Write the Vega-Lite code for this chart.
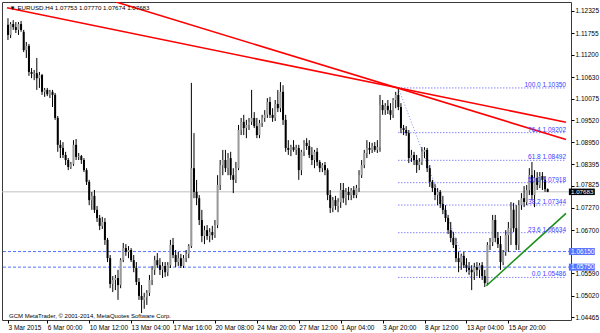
{
"$schema": "https://vega.github.io/schema/vega-lite/v6.json",
"width": 569, "height": 318,
"autosize": "none",
"padding": {"left": 2, "top": 2, "right": 29, "bottom": 13},
"background": "white",
"config": {"view": {"stroke": "#3a3a3a", "strokeWidth": 1}, "font": "Liberation Sans"},
"datasets": {
"candles": [
{"i":0,"o":1.1197,"h":1.1214,"l":1.1158,"c":1.1171},
{"i":1,"o":1.1171,"h":1.1204,"l":1.1163,"c":1.1199},
{"i":2,"o":1.1199,"h":1.1209,"l":1.1184,"c":1.1191},
{"i":3,"o":1.1191,"h":1.1204,"l":1.1176,"c":1.1184},
{"i":4,"o":1.1184,"h":1.1204,"l":1.1171,"c":1.1199},
{"i":5,"o":1.1199,"h":1.1207,"l":1.1179,"c":1.1184},
{"i":6,"o":1.1179,"h":1.1184,"l":1.1127,"c":1.1132},
{"i":7,"o":1.1132,"h":1.1153,"l":1.1112,"c":1.1143},
{"i":8,"o":1.1143,"h":1.1148,"l":1.1066,"c":1.1076},
{"i":9,"o":1.1076,"h":1.1086,"l":1.1060,"c":1.1071},
{"i":10,"o":1.1071,"h":1.1081,"l":1.1055,"c":1.1073},
{"i":11,"o":1.1073,"h":1.1112,"l":1.1030,"c":1.1060},
{"i":12,"o":1.1060,"h":1.1076,"l":1.1035,"c":1.1068},
{"i":13,"o":1.1068,"h":1.1071,"l":1.1017,"c":1.1025},
{"i":14,"o":1.1025,"h":1.1035,"l":1.1012,"c":1.1030},
{"i":15,"o":1.1030,"h":1.1035,"l":1.1014,"c":1.1019},
{"i":16,"o":1.1019,"h":1.1030,"l":1.1009,"c":1.1025},
{"i":17,"o":1.1025,"h":1.1030,"l":1.0986,"c":1.1017},
{"i":18,"o":1.1017,"h":1.1022,"l":1.0953,"c":1.0958},
{"i":19,"o":1.0958,"h":1.0963,"l":1.0871,"c":1.0889},
{"i":20,"o":1.0889,"h":1.0901,"l":1.0855,"c":1.0881},
{"i":21,"o":1.0881,"h":1.0896,"l":1.0855,"c":1.0863},
{"i":22,"o":1.0863,"h":1.0871,"l":1.0837,"c":1.0850},
{"i":23,"o":1.0850,"h":1.0855,"l":1.0824,"c":1.0832},
{"i":24,"o":1.0832,"h":1.0845,"l":1.0827,"c":1.0840},
{"i":25,"o":1.0840,"h":1.0901,"l":1.0835,"c":1.0889},
{"i":26,"o":1.0889,"h":1.0904,"l":1.0850,"c":1.0858},
{"i":27,"o":1.0858,"h":1.0868,"l":1.0850,"c":1.0860},
{"i":28,"o":1.0860,"h":1.0863,"l":1.0840,"c":1.0850},
{"i":29,"o":1.0850,"h":1.0855,"l":1.0819,"c":1.0824},
{"i":30,"o":1.0824,"h":1.0829,"l":1.0786,"c":1.0794},
{"i":31,"o":1.0794,"h":1.0799,"l":1.0734,"c":1.0747},
{"i":32,"o":1.0747,"h":1.0768,"l":1.0722,"c":1.0758},
{"i":33,"o":1.0758,"h":1.0773,"l":1.0714,"c":1.0722},
{"i":34,"o":1.0722,"h":1.0732,"l":1.0691,"c":1.0701},
{"i":35,"o":1.0701,"h":1.0709,"l":1.0670,"c":1.0681},
{"i":36,"o":1.0681,"h":1.0704,"l":1.0673,"c":1.0691},
{"i":37,"o":1.0691,"h":1.0701,"l":1.0632,"c":1.0645},
{"i":38,"o":1.0645,"h":1.0650,"l":1.0588,"c":1.0598},
{"i":39,"o":1.0598,"h":1.0606,"l":1.0521,"c":1.0532},
{"i":40,"o":1.0532,"h":1.0552,"l":1.0511,"c":1.0542},
{"i":41,"o":1.0542,"h":1.0555,"l":1.0516,"c":1.0547},
{"i":42,"o":1.0547,"h":1.0568,"l":1.0491,"c":1.0529},
{"i":43,"o":1.0529,"h":1.0598,"l":1.0521,"c":1.0593},
{"i":44,"o":1.0593,"h":1.0637,"l":1.0588,"c":1.0624},
{"i":45,"o":1.0624,"h":1.0634,"l":1.0604,"c":1.0614},
{"i":46,"o":1.0614,"h":1.0629,"l":1.0598,"c":1.0619},
{"i":47,"o":1.0619,"h":1.0624,"l":1.0588,"c":1.0593},
{"i":48,"o":1.0593,"h":1.0606,"l":1.0562,"c":1.0573},
{"i":49,"o":1.0573,"h":1.0588,"l":1.0529,"c":1.0537},
{"i":50,"o":1.0537,"h":1.0547,"l":1.0491,"c":1.0501},
{"i":51,"o":1.0501,"h":1.0529,"l":1.0457,"c":1.0491},
{"i":52,"o":1.0491,"h":1.0509,"l":1.0468,"c":1.0498},
{"i":53,"o":1.0498,"h":1.0516,"l":1.0478,"c":1.0509},
{"i":54,"o":1.0509,"h":1.0555,"l":1.0501,"c":1.0542},
{"i":55,"o":1.0542,"h":1.0578,"l":1.0529,"c":1.0568},
{"i":56,"o":1.0568,"h":1.0604,"l":1.0555,"c":1.0593},
{"i":57,"o":1.0593,"h":1.0611,"l":1.0573,"c":1.0580},
{"i":58,"o":1.0580,"h":1.0598,"l":1.0555,"c":1.0568},
{"i":59,"o":1.0568,"h":1.0588,"l":1.0547,"c":1.0578},
{"i":60,"o":1.0578,"h":1.0588,"l":1.0550,"c":1.0562},
{"i":61,"o":1.0562,"h":1.0588,"l":1.0552,"c":1.0580},
{"i":62,"o":1.0580,"h":1.0645,"l":1.0573,"c":1.0632},
{"i":63,"o":1.0632,"h":1.0650,"l":1.0598,"c":1.0606},
{"i":64,"o":1.0606,"h":1.0619,"l":1.0575,"c":1.0588},
{"i":65,"o":1.0588,"h":1.0614,"l":1.0578,"c":1.0598},
{"i":66,"o":1.0598,"h":1.0609,"l":1.0573,"c":1.0578},
{"i":67,"o":1.0578,"h":1.0606,"l":1.0573,"c":1.0598},
{"i":68,"o":1.0598,"h":1.0619,"l":1.0588,"c":1.0609},
{"i":69,"o":1.0609,"h":1.0634,"l":1.0598,"c":1.0629},
{"i":70,"o":1.0629,"h":1.1048,"l":1.0624,"c":1.0829},
{"i":71,"o":1.0829,"h":1.0919,"l":1.0752,"c":1.0768},
{"i":72,"o":1.0768,"h":1.0799,"l":1.0734,"c":1.0752},
{"i":73,"o":1.0752,"h":1.0760,"l":1.0683,"c":1.0696},
{"i":74,"o":1.0696,"h":1.0722,"l":1.0639,"c":1.0655},
{"i":75,"o":1.0655,"h":1.0681,"l":1.0634,"c":1.0670},
{"i":76,"o":1.0670,"h":1.0683,"l":1.0645,"c":1.0655},
{"i":77,"o":1.0655,"h":1.0675,"l":1.0639,"c":1.0665},
{"i":78,"o":1.0665,"h":1.0681,"l":1.0645,"c":1.0657},
{"i":79,"o":1.0657,"h":1.0696,"l":1.0650,"c":1.0683},
{"i":80,"o":1.0683,"h":1.0811,"l":1.0675,"c":1.0786},
{"i":81,"o":1.0786,"h":1.0850,"l":1.0773,"c":1.0837},
{"i":82,"o":1.0837,"h":1.0876,"l":1.0811,"c":1.0850},
{"i":83,"o":1.0850,"h":1.0876,"l":1.0819,"c":1.0829},
{"i":84,"o":1.0829,"h":1.0868,"l":1.0811,"c":1.0855},
{"i":85,"o":1.0855,"h":1.0871,"l":1.0799,"c":1.0811},
{"i":86,"o":1.0811,"h":1.0829,"l":1.0765,"c":1.0799},
{"i":87,"o":1.0799,"h":1.0845,"l":1.0791,"c":1.0829},
{"i":88,"o":1.0829,"h":1.0940,"l":1.0824,"c":1.0927},
{"i":89,"o":1.0927,"h":1.0958,"l":1.0914,"c":1.0948},
{"i":90,"o":1.0948,"h":1.0966,"l":1.0914,"c":1.0932},
{"i":91,"o":1.0932,"h":1.0953,"l":1.0906,"c":1.0940},
{"i":92,"o":1.0940,"h":1.0958,"l":1.0927,"c":1.0948},
{"i":93,"o":1.0948,"h":1.1030,"l":1.0940,"c":1.0958},
{"i":94,"o":1.0958,"h":1.0973,"l":1.0932,"c":1.0937},
{"i":95,"o":1.0937,"h":1.0958,"l":1.0906,"c":1.0914},
{"i":96,"o":1.0914,"h":1.0953,"l":1.0906,"c":1.0945},
{"i":97,"o":1.0945,"h":1.0966,"l":1.0935,"c":1.0958},
{"i":98,"o":1.0958,"h":1.0978,"l":1.0948,"c":1.0966},
{"i":99,"o":1.0966,"h":1.1009,"l":1.0958,"c":1.0999},
{"i":100,"o":1.0999,"h":1.1012,"l":1.0958,"c":1.0966},
{"i":101,"o":1.0966,"h":1.0983,"l":1.0948,"c":1.0958},
{"i":102,"o":1.0958,"h":1.1004,"l":1.0950,"c":1.0994},
{"i":103,"o":1.0994,"h":1.1030,"l":1.0973,"c":1.0983},
{"i":104,"o":1.0983,"h":1.1050,"l":1.0973,"c":1.1025},
{"i":105,"o":1.1025,"h":1.1042,"l":1.0940,"c":1.0953},
{"i":106,"o":1.0953,"h":1.0966,"l":1.0871,"c":1.0881},
{"i":107,"o":1.0881,"h":1.0901,"l":1.0863,"c":1.0876},
{"i":108,"o":1.0876,"h":1.0889,"l":1.0860,"c":1.0883},
{"i":109,"o":1.0883,"h":1.0901,"l":1.0871,"c":1.0876},
{"i":110,"o":1.0876,"h":1.0889,"l":1.0863,"c":1.0881},
{"i":111,"o":1.0881,"h":1.0889,"l":1.0799,"c":1.0824},
{"i":112,"o":1.0824,"h":1.0876,"l":1.0811,"c":1.0871},
{"i":113,"o":1.0871,"h":1.0901,"l":1.0860,"c":1.0894},
{"i":114,"o":1.0894,"h":1.0906,"l":1.0876,"c":1.0886},
{"i":115,"o":1.0886,"h":1.0901,"l":1.0855,"c":1.0863},
{"i":116,"o":1.0863,"h":1.0883,"l":1.0837,"c":1.0850},
{"i":117,"o":1.0850,"h":1.0876,"l":1.0829,"c":1.0871},
{"i":118,"o":1.0871,"h":1.0881,"l":1.0835,"c":1.0845},
{"i":119,"o":1.0845,"h":1.0850,"l":1.0819,"c":1.0829},
{"i":120,"o":1.0829,"h":1.0842,"l":1.0819,"c":1.0837},
{"i":121,"o":1.0837,"h":1.0845,"l":1.0811,"c":1.0824},
{"i":122,"o":1.0824,"h":1.0829,"l":1.0747,"c":1.0760},
{"i":123,"o":1.0760,"h":1.0773,"l":1.0714,"c":1.0727},
{"i":124,"o":1.0727,"h":1.0755,"l":1.0716,"c":1.0747},
{"i":125,"o":1.0747,"h":1.0758,"l":1.0722,"c":1.0732},
{"i":126,"o":1.0732,"h":1.0752,"l":1.0716,"c":1.0742},
{"i":127,"o":1.0742,"h":1.0791,"l":1.0727,"c":1.0773},
{"i":128,"o":1.0773,"h":1.0791,"l":1.0740,"c":1.0752},
{"i":129,"o":1.0752,"h":1.0778,"l":1.0734,"c":1.0768},
{"i":130,"o":1.0768,"h":1.0781,"l":1.0747,"c":1.0760},
{"i":131,"o":1.0760,"h":1.0778,"l":1.0747,"c":1.0773},
{"i":132,"o":1.0773,"h":1.0783,"l":1.0752,"c":1.0760},
{"i":133,"o":1.0760,"h":1.0786,"l":1.0752,"c":1.0778},
{"i":134,"o":1.0778,"h":1.0824,"l":1.0768,"c":1.0811},
{"i":135,"o":1.0811,"h":1.0850,"l":1.0804,"c":1.0837},
{"i":136,"o":1.0837,"h":1.0876,"l":1.0829,"c":1.0868},
{"i":137,"o":1.0868,"h":1.0901,"l":1.0855,"c":1.0881},
{"i":138,"o":1.0881,"h":1.0896,"l":1.0865,"c":1.0876},
{"i":139,"o":1.0876,"h":1.0894,"l":1.0868,"c":1.0886},
{"i":140,"o":1.0886,"h":1.0896,"l":1.0871,"c":1.0876},
{"i":141,"o":1.0876,"h":1.0901,"l":1.0868,"c":1.0883},
{"i":142,"o":1.0883,"h":1.1017,"l":1.0871,"c":1.0991},
{"i":143,"o":1.0991,"h":1.1004,"l":1.0966,"c":1.0978},
{"i":144,"o":1.0978,"h":1.0996,"l":1.0966,"c":1.0989},
{"i":145,"o":1.0989,"h":1.1004,"l":1.0968,"c":1.0978},
{"i":146,"o":1.0978,"h":1.0996,"l":1.0953,"c":1.0966},
{"i":147,"o":1.0966,"h":1.1009,"l":1.0958,"c":1.1004},
{"i":148,"o":1.1004,"h":1.1025,"l":1.0983,"c":1.1017},
{"i":149,"o":1.1017,"h":1.1035,"l":1.0978,"c":1.0986},
{"i":150,"o":1.0986,"h":1.0996,"l":1.0919,"c":1.0932},
{"i":151,"o":1.0932,"h":1.0940,"l":1.0914,"c":1.0927},
{"i":152,"o":1.0927,"h":1.0937,"l":1.0912,"c":1.0919},
{"i":153,"o":1.0919,"h":1.0927,"l":1.0842,"c":1.0855},
{"i":154,"o":1.0855,"h":1.0876,"l":1.0845,"c":1.0863},
{"i":155,"o":1.0863,"h":1.0871,"l":1.0837,"c":1.0850},
{"i":156,"o":1.0850,"h":1.0863,"l":1.0817,"c":1.0837},
{"i":157,"o":1.0837,"h":1.0855,"l":1.0824,"c":1.0845},
{"i":158,"o":1.0845,"h":1.0883,"l":1.0837,"c":1.0871},
{"i":159,"o":1.0871,"h":1.0883,"l":1.0855,"c":1.0876},
{"i":160,"o":1.0876,"h":1.0881,"l":1.0819,"c":1.0829},
{"i":161,"o":1.0829,"h":1.0837,"l":1.0781,"c":1.0794},
{"i":162,"o":1.0794,"h":1.0799,"l":1.0768,"c":1.0778},
{"i":163,"o":1.0778,"h":1.0788,"l":1.0747,"c":1.0760},
{"i":164,"o":1.0760,"h":1.0778,"l":1.0734,"c":1.0768},
{"i":165,"o":1.0768,"h":1.0773,"l":1.0727,"c":1.0737},
{"i":166,"o":1.0737,"h":1.0758,"l":1.0711,"c":1.0722},
{"i":167,"o":1.0722,"h":1.0734,"l":1.0691,"c":1.0701},
{"i":168,"o":1.0701,"h":1.0709,"l":1.0660,"c":1.0670},
{"i":169,"o":1.0670,"h":1.0691,"l":1.0639,"c":1.0650},
{"i":170,"o":1.0650,"h":1.0665,"l":1.0624,"c":1.0632},
{"i":171,"o":1.0632,"h":1.0650,"l":1.0588,"c":1.0598},
{"i":172,"o":1.0598,"h":1.0614,"l":1.0562,"c":1.0588},
{"i":173,"o":1.0588,"h":1.0609,"l":1.0568,"c":1.0604},
{"i":174,"o":1.0604,"h":1.0614,"l":1.0573,"c":1.0580},
{"i":175,"o":1.0580,"h":1.0598,"l":1.0562,"c":1.0573},
{"i":176,"o":1.0573,"h":1.0588,"l":1.0555,"c":1.0568},
{"i":177,"o":1.0568,"h":1.0580,"l":1.0516,"c":1.0562},
{"i":178,"o":1.0562,"h":1.0586,"l":1.0542,"c":1.0575},
{"i":179,"o":1.0575,"h":1.0588,"l":1.0552,"c":1.0568},
{"i":180,"o":1.0568,"h":1.0586,"l":1.0547,"c":1.0580},
{"i":181,"o":1.0580,"h":1.0588,"l":1.0542,"c":1.0552},
{"i":182,"o":1.0552,"h":1.0568,"l":1.0524,"c":1.0534},
{"i":183,"o":1.0534,"h":1.0639,"l":1.0529,"c":1.0632},
{"i":184,"o":1.0632,"h":1.0650,"l":1.0619,"c":1.0639},
{"i":185,"o":1.0639,"h":1.0709,"l":1.0629,"c":1.0696},
{"i":186,"o":1.0696,"h":1.0709,"l":1.0639,"c":1.0650},
{"i":187,"o":1.0650,"h":1.0665,"l":1.0624,"c":1.0634},
{"i":188,"o":1.0634,"h":1.0655,"l":1.0568,"c":1.0588},
{"i":189,"o":1.0588,"h":1.0619,"l":1.0580,"c":1.0614},
{"i":190,"o":1.0614,"h":1.0670,"l":1.0604,"c":1.0657},
{"i":191,"o":1.0657,"h":1.0691,"l":1.0614,"c":1.0675},
{"i":192,"o":1.0675,"h":1.0742,"l":1.0632,"c":1.0722},
{"i":193,"o":1.0722,"h":1.0740,"l":1.0665,"c":1.0675},
{"i":194,"o":1.0675,"h":1.0734,"l":1.0619,"c":1.0632},
{"i":195,"o":1.0632,"h":1.0747,"l":1.0619,"c":1.0734},
{"i":196,"o":1.0734,"h":1.0765,"l":1.0722,"c":1.0752},
{"i":197,"o":1.0752,"h":1.0783,"l":1.0729,"c":1.0742},
{"i":198,"o":1.0742,"h":1.0786,"l":1.0734,"c":1.0773},
{"i":199,"o":1.0773,"h":1.0829,"l":1.0760,"c":1.0811},
{"i":200,"o":1.0811,"h":1.0845,"l":1.0747,"c":1.0760},
{"i":201,"o":1.0760,"h":1.0824,"l":1.0729,"c":1.0804},
{"i":202,"o":1.0804,"h":1.0819,"l":1.0773,"c":1.0786},
{"i":203,"o":1.0786,"h":1.0819,"l":1.0778,"c":1.0809},
{"i":204,"o":1.0809,"h":1.0819,"l":1.0773,"c":1.0799},
{"i":205,"o":1.0799,"h":1.0809,"l":1.0768,"c":1.0775},
{"i":206,"o":1.07753,"h":1.07770,"l":1.07674,"c":1.07683}
],
"fib": [
{"i0":149,"i1":213,"p":1.1035,"t":"100.0 1.10350"},
{"i0":149,"i1":213,"p":1.09202,"t":"76.4 1.09202"},
{"i0":149,"i1":213,"p":1.08492,"t":"61.8 1.08492"},
{"i0":149,"i1":213,"p":1.07918,"t":"50.0 1.07918"},
{"i0":149,"i1":213,"p":1.07344,"t":"38.2 1.07344"},
{"i0":149,"i1":213,"p":1.06634,"t":"23.6 1.06634"},
{"i0":149,"i1":213,"p":1.05486,"t":"0.0 1.05486"}
],
"trend": [
{"name":"r1","i":-0.375,"p":1.12407},
{"name":"r1","i":213,"p":1.0947},
{"name":"r2","i":41.25,"p":1.12556},
{"name":"r2","i":213,"p":1.09026},
{"name":"g","i":182.6,"p":1.05273},
{"name":"g","i":213,"p":1.07132}
],
"diag": [
{"i":149,"p":1.1035},
{"i":176.5,"p":1.05486}
],
"hl": [
{"p":1.0615,"t":"1.06150"},
{"p":1.0575,"t":"1.05750"}
],
"bid": [
{"p":1.07683,"t":"1.07683"}
]
},
"layer": [
{
"data": {"name": "fib"},
"mark": {"type": "rule", "color": "#4a4aff", "strokeWidth": 1, "strokeDash": [1, 2]},
"encoding": {
"x": {"field": "i0", "type": "quantitative", "title": null, "scale": {"domain": [-0.375, 213], "nice": false, "zero": false},
"axis": {"orient": "bottom", "title": null, "grid": false, "domain": false, "tickSize": 3, "tickColor": "#000", "tickCount": 30,
"labelPadding": 1, "labelFontSize": 6.5, "labelColor": "#000", "labelAlign": "left", "labelDx": 2, "labelBaseline": "top",
"labelOverlap": false, "labelFlush": false, "labelBound": false,
"values": [0, 15, 31, 47, 63, 79, 95, 111, 127, 143, 159, 175, 191],
"labelExpr": "['3 Mar 2015','6 Mar 00:00','10 Mar 12:00','13 Mar 04:00','17 Mar 16:00','20 Mar 08:00','24 Mar 20:00','27 Mar 12:00','1 Apr 04:00','3 Apr 20:00','8 Apr 12:00','13 Apr 04:00','15 Apr 20:00'][indexof([0,15,31,47,63,79,95,111,127,143,159,175,191], datum.value)]"}},
"x2": {"field": "i1"},
"y": {"field": "p", "type": "quantitative", "title": null, "scale": {"domain": [1.04393, 1.12556], "nice": false, "zero": false},
"axis": {"orient": "right", "title": null, "grid": false, "domain": false, "tickSize": 3, "tickColor": "#000", "tickCount": 30, "labelPadding": 1,
"labelFontSize": 6.5, "labelColor": "#000", "labelOverlap": false, "labelFlush": false, "labelBound": false,
"labelBaseline": {"condition": {"test": "datum.value == 1.07825", "value": "alphabetic"}, "value": "middle"},
"values": [1.12325, 1.11755, 1.112, 1.1063, 1.10075, 1.0952, 1.0895, 1.08395, 1.07825, 1.0727, 1.067, 1.0559, 1.0502, 1.04465],
"labelExpr": "format(datum.value, '.5f')"}}
}
},
{
"data": {"name": "bid"},
"mark": {"type": "rule", "color": "#c0c0c0", "strokeWidth": 1},
"encoding": {
"y": {"field": "p", "type": "quantitative", "title": null}
}
},
{
"data": {"name": "hl"},
"mark": {"type": "rule", "color": "#5470ff", "strokeWidth": 1, "strokeDash": [3, 2]},
"encoding": {"y": {"field": "p", "type": "quantitative", "title": null}}
},
{
"data": {"name": "diag"},
"mark": {"type": "line", "color": "#7a8aff", "strokeWidth": 1, "strokeDash": [1, 2]},
"encoding": {
"x": {"field": "i", "type": "quantitative", "title": null},
"y": {"field": "p", "type": "quantitative", "title": null}
}
},
{
"data": {"name": "candles"},
"mark": {"type": "rule", "color": "#000000", "strokeWidth": 1},
"encoding": {
"x": {"field": "i", "type": "quantitative", "title": null},
"y": {"field": "l", "type": "quantitative", "title": null},
"y2": {"field": "h"}
}
},
{
"data": {"name": "candles"},
"mark": {"type": "bar", "size": 2},
"encoding": {
"x": {"field": "i", "type": "quantitative", "title": null},
"y": {"field": "o", "type": "quantitative", "title": null},
"y2": {"field": "c"},
"color": {"condition": {"test": "datum.c >= datum.o", "value": "#999999"}, "value": "#000000"}
}
},
{
"data": {"name": "trend"},
"mark": {"type": "line", "strokeWidth": 1.6, "clip": true},
"encoding": {
"x": {"field": "i", "type": "quantitative", "title": null},
"y": {"field": "p", "type": "quantitative", "title": null},
"detail": {"field": "name"},
"color": {"field": "name", "type": "nominal", "legend": null, "scale": {"domain": ["r1", "r2", "g"], "range": ["#ff0000", "#ff0000", "#1a8f1a"]}}
}
},
{
"data": {"name": "fib"},
"mark": {"type": "text", "align": "right", "baseline": "alphabetic", "dy": -1, "fontSize": 6.5, "color": "#3c3cff"},
"encoding": {
"x": {"field": "i1", "type": "quantitative", "title": null},
"y": {"field": "p", "type": "quantitative", "title": null},
"text": {"field": "t"}
}
},
{
"data": {"name": "hl"},
"mark": {"type": "rect", "height": 7, "color": "#5470ff"},
"encoding": {
"x": {"datum": 214.1, "type": "quantitative", "title": null},
"x2": {"datum": 224},
"y": {"field": "p", "type": "quantitative", "title": null}
}
},
{
"data": {"name": "hl"},
"mark": {"type": "text", "align": "left", "baseline": "middle", "fontSize": 6.5, "color": "#ffffff"},
"encoding": {
"x": {"datum": 214.9, "type": "quantitative", "title": null},
"y": {"field": "p", "type": "quantitative", "title": null},
"text": {"field": "t"}
}
},
{
"data": {"name": "bid"},
"mark": {"type": "rect", "height": 6.5, "color": "#000000"},
"encoding": {
"x": {"datum": 214.1, "type": "quantitative", "title": null},
"x2": {"datum": 224},
"y": {"field": "p", "type": "quantitative", "title": null}
}
},
{
"data": {"name": "bid"},
"mark": {"type": "text", "align": "left", "baseline": "middle", "fontSize": 6.2, "color": "#ffffff"},
"encoding": {
"x": {"datum": 214.9, "type": "quantitative", "title": null},
"y": {"field": "p", "type": "quantitative", "title": null},
"text": {"field": "t"}
}
},
{
"data": {"values": [{}]},
"mark": {"type": "text", "align": "left", "baseline": "middle", "fontSize": 6.2, "color": "#000000", "text": "▼ EURUSD.H4 1.07753 1.07770 1.07674 1.07683"},
"encoding": {
"x": {"datum": 0.6, "type": "quantitative", "title": null},
"y": {"datum": 1.12414, "type": "quantitative", "title": null}
}
},
{
"data": {"values": [{}]},
"mark": {"type": "text", "align": "left", "baseline": "middle", "fontSize": 6.0, "color": "#000000", "text": "GCM MetaTrader, © 2001-2014, MetaQuotes Software Corp."},
"encoding": {
"x": {"datum": 0.4, "type": "quantitative", "title": null},
"y": {"datum": 1.04503, "type": "quantitative", "title": null}
}
}
]
}
